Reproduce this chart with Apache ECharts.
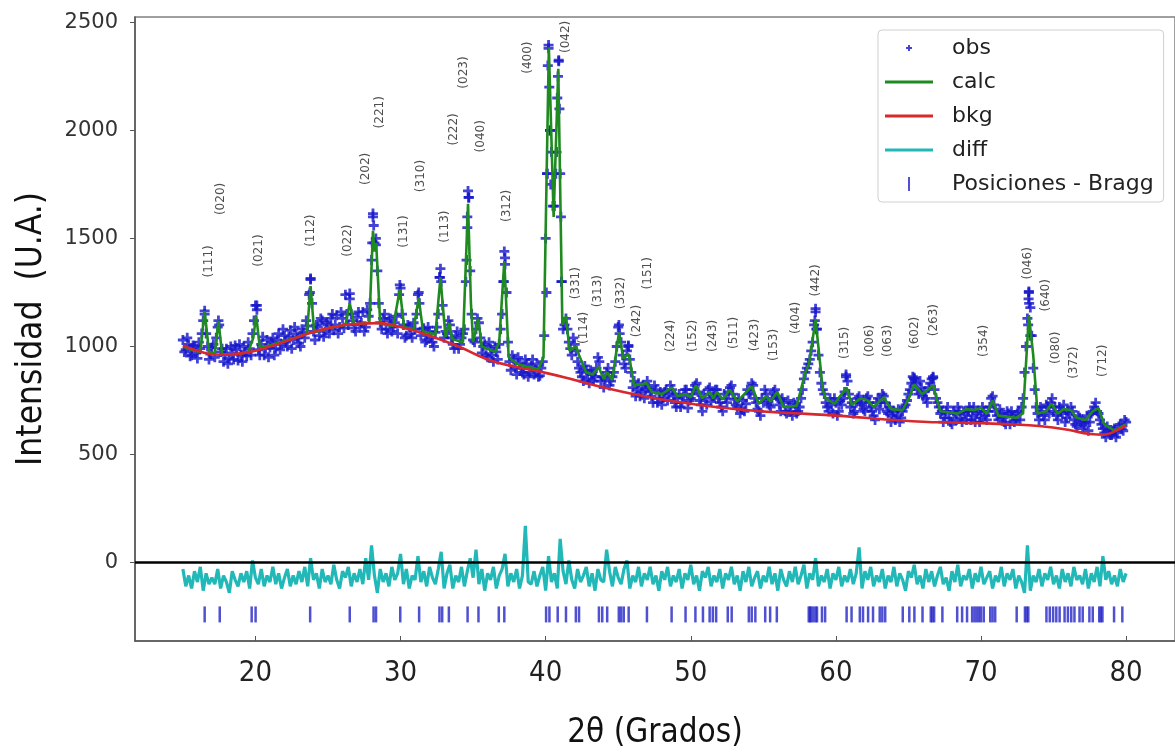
<!DOCTYPE html>
<html>
<head>
<meta charset="utf-8">
<title>Refinamiento Rietveld</title>
<script src="https://cdn.jsdelivr.net/npm/echarts@6/dist/echarts.min.js"></script>
<style>
  html, body { margin: 0; padding: 0; background: #fff; }
  #chart { width: 1175px; height: 755px; }
</style>
</head>
<body>
<div id="chart"></div>
<script>
// observed intensity, read every 0.2 deg from 15.0 to 80.0
var obsStart = 15, obsStep = 0.2;
var obsY = [
  1030, 985, 1010, 960, 1000, 945, 990, 1120, 1060, 940,
  995, 950, 1090, 975, 930, 990, 945, 970, 1005, 935,
  960, 1000, 955, 990, 1060, 1190, 985, 1010, 960, 1030,
  995, 1040, 990, 1060, 1010, 1050, 1000, 1075, 1030, 1060,
  1015, 1080, 1040, 1095, 1310, 1070, 1100, 1050, 1120, 1070,
  1100, 1130, 1075, 1145, 1090, 1130, 1240, 1100, 1150, 1085,
  1135, 1100, 1160, 1090, 1140, 1400, 1480, 1350, 1110, 1130,
  1080, 1120, 1070, 1110, 1060, 1270, 1100, 1050, 1090, 1040,
  1080, 1240, 1050, 1085, 1030, 1070, 1020, 1065, 1150, 1300,
  1040, 1060, 1100, 1010, 1050, 990, 1040, 1080, 1550, 1350,
  1030, 1080, 1110, 970, 1010, 950, 990, 930, 975, 1010,
  1150, 1380, 1020, 890, 940, 870, 925, 880, 940, 860,
  910, 870, 920, 865, 930, 1500, 2380, 1900, 1650, 2150,
  1800, 1080, 1130, 1020, 960, 1010, 930, 880, 840, 890,
  830, 870, 860, 950, 840, 810, 880, 820, 860, 930,
  1090, 1020, 920, 980, 940, 810, 770, 830, 790, 760,
  840, 790, 740, 800, 760, 730, 790, 750, 820, 770,
  720, 780, 740, 800, 715, 760, 800, 830, 750, 700,
  760, 800, 745, 770, 800, 740, 700, 760, 790, 820,
  755, 720, 690, 750, 735, 780, 830, 760, 710, 680,
  740, 780, 730, 760, 800, 760, 700, 740, 690, 720,
  680, 730, 700, 760, 850, 900, 940, 1020, 1160, 960,
  830, 780, 720, 760, 690, 740, 700, 730, 790, 840,
  720, 690, 740, 770, 730, 700, 770, 720, 680, 740,
  710, 780, 740, 690, 650, 700, 680, 650, 700, 730,
  780, 830, 850, 800, 840, 770, 760, 810, 850, 800,
  740, 690, 650, 700, 670, 640, 690, 720, 670, 700,
  660, 720, 680, 650, 700, 670, 700, 660, 720, 770,
  700, 660, 690, 650, 700, 640, 680, 660, 700, 720,
  880, 1130, 1180, 900, 720, 660, 700, 660, 720, 740,
  700, 680, 720, 690, 650, 700, 720, 660, 630, 670,
  620, 650, 610, 690, 720, 700, 660, 620, 580, 610,
  590, 620, 600, 640, 610, 650
];
// observed intensity in between, 15.1 to 79.9
var obsStart2 = 15.1;
var obsY2 = [
  975, 1040, 955, 1005, 970, 1020, 1060, 1150, 1000, 965,
  1010, 1040, 1100, 990, 960, 920, 1000, 940, 985, 1010,
  930, 975, 1020, 960, 1120, 1170, 960, 1045, 990, 950,
  1020, 960, 1030, 985, 1080, 1020, 1045, 990, 1090, 1040,
  1000, 1065, 1120, 1240, 1200, 1030, 1090, 1130, 1045, 1110,
  1060, 1150, 1100, 1060, 1160, 1085, 1150, 1220, 1120, 1070,
  1160, 1110, 1070, 1170, 1200, 1600, 1470, 1200, 1080, 1150,
  1060, 1130, 1090, 1140, 1240, 1150, 1040, 1100, 1060, 1110,
  1150, 1200, 1080, 1020, 1090, 1040, 1000, 1090, 1320, 1190,
  1070, 1120, 1040, 990, 1070, 1010, 1060, 1300, 1690, 1150,
  1020, 1130, 1040, 1000, 960, 1020, 960, 1000, 940, 1080,
  1300, 1250, 930, 960, 900, 950, 900, 870, 920, 880,
  940, 890, 860, 900, 1050, 1800, 2000, 1650, 1800, 2320,
  1300, 1100, 1080, 990, 1040, 980, 900, 860, 910, 850,
  890, 840, 900, 930, 860, 850, 900, 840, 880, 1000,
  1060, 960, 900, 1000, 880, 840, 800, 770, 820, 800,
  810, 770, 820, 740, 790, 760, 800, 780, 800, 740,
  760, 720, 770, 800, 750, 780, 820, 790, 730, 780,
  730, 810, 770, 800, 760, 720, 780, 740, 810, 780,
  730, 760, 710, 700, 800, 790, 820, 740, 700, 760,
  800, 750, 720, 790, 770, 730, 760, 700, 750, 700,
  740, 690, 720, 800, 880, 920, 980, 1100, 1080, 880,
  800, 740, 700, 730, 760, 680, 750, 760, 860, 780,
  740, 700, 760, 740, 710, 760, 740, 700, 660, 760,
  740, 770, 700, 720, 680, 660, 710, 670, 720, 750,
  800, 860, 830, 780, 810, 790, 740, 830, 860, 760,
  720, 700, 670, 720, 650, 700, 660, 700, 650, 690,
  700, 660, 720, 690, 650, 720, 680, 700, 760, 730,
  680, 710, 670, 640, 690, 700, 650, 690, 660, 760,
  1000, 1250, 1050, 800, 690, 720, 680, 730, 690, 760,
  720, 660, 700, 730, 670, 690, 700, 640, 680, 650,
  640, 680, 650, 700, 740, 690, 640, 600, 630, 590,
  610, 580, 630, 620, 660
];
// extra observed points along the peak flanks and tops
var obsPeaks = [
  [16.5, 1165], [17.45, 1120], [20.1, 1190], [23.8, 1315], [23.75, 1250],
  [26.5, 1245], [28.1, 1615], [28.15, 1560], [28.05, 1480], [28.3, 1500],
  [29.95, 1285], [31.25, 1250], [32.75, 1360], [32.7, 1320], [34.65, 1720],
  [34.7, 1690], [34.6, 1600], [34.55, 1400], [37.15, 1440], [37.2, 1410],
  [37.1, 1300], [40.05, 1250], [40.1, 1800], [40.15, 2300], [40.2, 2395],
  [40.25, 2200], [40.3, 2000], [40.35, 1750], [40.75, 1900], [40.85, 2250],
  [40.9, 2325], [40.95, 2100], [41.05, 1600], [41.1, 1300], [45.05, 1100],
  [45.7, 1005], [58.6, 1175], [58.55, 1120], [58.65, 1080], [60.7, 870],
  [65.4, 855], [66.7, 855], [73.3, 1255], [73.28, 1220], [73.32, 1200],
  [73.25, 1100], [73.4, 1050]
];

// calculated profile
var calcPts = [
  [15, 1000], [15.6, 985], [16.2, 975], [16.5, 1165], [16.8, 975], [17.2, 968],
  [17.45, 1120], [17.7, 965], [18.5, 962], [19.5, 975], [19.85, 1040], [20.05, 1145],
  [20.3, 995], [21, 1005], [22, 1025], [23, 1045], [23.55, 1060], [23.8, 1280],
  [24.05, 1065], [25, 1085], [26.2, 1100], [26.5, 1200], [26.8, 1102], [27.85, 1110],
  [28.1, 1535], [28.2, 1440], [28.32, 1480], [28.6, 1105], [29.5, 1095], [29.95, 1265],
  [30.25, 1090], [30.9, 1080], [31.25, 1225], [31.55, 1070], [32.4, 1055], [32.75, 1320],
  [32.9, 1200], [33.1, 1045], [33.35, 1110], [33.55, 1035], [34.3, 1020], [34.65, 1660],
  [34.85, 1200], [35.0, 1020], [35.35, 1130], [35.6, 1000], [36.5, 975], [36.8, 1020],
  [37.15, 1395], [37.45, 950], [38, 920], [38.8, 905], [39.5, 895], [39.85, 950],
  [40.22, 2385], [40.55, 1600], [40.87, 2285], [41.15, 1100], [41.4, 1140], [41.65, 980],
  [42.1, 1000], [42.3, 960], [42.8, 880], [43.25, 870], [43.65, 905], [44.0, 850],
  [44.25, 880], [44.6, 845], [45.05, 1065], [45.35, 945], [45.72, 965], [46.1, 820],
  [46.95, 830], [47.3, 790], [48, 780], [48.7, 810], [49.1, 770], [49.64, 780],
  [50.0, 765], [50.35, 820], [50.8, 760], [51.3, 790], [51.55, 760], [51.8, 790],
  [52.2, 755], [52.7, 800], [53.2, 745], [54.2, 815], [54.7, 735], [55.2, 770],
  [55.5, 745], [55.95, 790], [56.4, 720], [57.3, 725], [57.9, 880], [58.15, 920],
  [58.6, 1125], [59.1, 800], [59.3, 760], [59.9, 735], [60.74, 810], [61.1, 730],
  [61.7, 760], [62.2, 750], [62.6, 720], [63.3, 765], [63.8, 710], [64.6, 705],
  [65.1, 770], [65.4, 825], [65.95, 780], [66.7, 820], [67.2, 700], [68.4, 690],
  [69, 710], [69.5, 705], [70.0, 715], [70.4, 690], [70.8, 750], [71.2, 680],
  [72.4, 670], [72.9, 690], [73.3, 1145], [73.6, 960], [73.9, 690], [74.5, 700],
  [74.85, 735], [75.3, 690], [75.7, 710], [76.2, 705], [76.6, 670], [77.2, 660],
  [77.7, 700], [78.1, 715], [78.5, 640], [79.2, 610], [79.7, 630], [80, 640]
];

// background
var bkgPts = [
  [15, 1005], [16, 980], [17.5, 962], [19, 968], [21, 1000], [23, 1045], [25, 1085],
  [27, 1105], [28.5, 1108], [30, 1090], [32, 1050], [34, 1000], [36, 940], [38, 905],
  [40, 878], [42, 845], [44, 810], [46, 780], [48, 755], [50, 735], [52, 718],
  [54, 705], [56, 695], [58, 688], [60, 680], [62, 670], [64, 660], [66, 652],
  [68, 648], [70, 645], [72, 640], [74, 632], [76, 615], [77.5, 595], [78.5, 592],
  [79.3, 610], [80, 635]
];

// difference obs - calc, same 0.2 deg grid as obsY
var diffY = [
  -30, -110, -60, -120, -40, -90, -20, -130, -50, -100, -70,
  -100, -30, -120, -60, -90, -140, -40, -80, -110, -50,
  -90, -40, -120, 10, -70, -100, -30, -110, -60, -90,
  -20, -100, -50, -120, -70, -30, -110, -60, -100, -40,
  -90, -20, -110, 20, -80, -50, -120, -30, -90, -60,
  -100, -10, -80, -120, -40, -70, -20, -110, -50, -90,
  -30, -100, 20, -80, 80, -60, -140, -30, -90, -50,
  -110, -20, -80, -50, 40, -100, -30, -120, -60, -80,
  30, -90, -40, -110, -20, -70, -100, -30, 50, -120,
  -50, -10, -120, -60, -90, -20, -110, -40, 20, -70,
  60, -100, -30, -130, -50, -80, -20, -120, -60, -30,
  40, -110, -50, -90, -30, -120, -60, 170, -90, -100,
  -40, -110, -60, -20, -130, 30, -90, -50, -120, 110,
  -40, -100, 10, -80, -120, -30, -90, -60, -20, -110,
  -50, -130, -30, -80, -90, 60, -40, -110, -20, -70,
  -100, -30, 10, -120, -60, -90, -20, -110, -50, -80,
  -20, -100, -60, -130, -40, -80, -20, -110, -60, -90,
  -30, -120, -50, -80, -10, -100, -60, -130, -40, -70,
  -20, -110, -60, -90, -30, -120, -50, -80, -20, -100,
  -60, -130, -40, -90, -20, -110, -70, -40, -120, -60,
  -90, -20, -100, -50, -130, -30, -80, -110, -40, -90,
  -20, -100, -60, -10, -120, -50, -80, 20, -110, -60,
  -90, -30, -120, -50, -80, -20, -110, -60, -90, -30,
  -100, -50, 70, -120, -40, -80, -20, -110, -60, -90,
  -30, -120, -60, -90, -20, -110, -50, -80, -130, -40,
  -70, -10, -100, -60, -120, -30, -90, -40, -110, -60,
  -20, -100, -70, -130, -40, -90, -10, -110, -60, -80,
  -30, -120, -50, -90, -20, -100, -70, -40, -120, -60,
  -90, -20, -110, -50, -80, -30, -120, -60, -90, -140,
  80, -130, -60, -90, -30, -110, -50, -80, -20, -100,
  -60, -120, -30, -90, -50, -110, -20, -80, -60, -100,
  -30, -120, -50, -90, -20, -110, 30, -80, -40, -100,
  -60, -110, -30, -90, -50
];

// Bragg reflection positions (2theta)
var braggPos = [
  16.5, 17.54, 19.74, 20.01, 23.77, 26.5, 28.14, 28.31, 29.98, 31.28, 32.68, 32.87,
  33.33, 34.62, 35.37, 36.77, 37.15, 40.03, 40.26, 40.83, 41.4, 42.08, 42.3, 43.67,
  43.9, 44.24, 45.04, 45.2, 45.38, 45.72, 46.98, 48.68, 49.64, 50.32, 50.84, 51.3,
  51.52, 51.75, 52.55, 52.82, 54.0, 54.2, 54.45, 55.13, 55.47, 55.93, 58.13, 58.22,
  58.3, 58.45, 58.6, 58.7, 59.04, 59.26, 60.74, 61.08, 61.65, 61.87, 62.22, 62.56,
  63.02, 63.2, 63.4, 64.61, 65.06, 65.41, 65.97, 66.54, 66.65, 66.77, 67.34, 68.36,
  68.7, 69.04, 69.39, 69.55, 69.7, 69.85, 70.0, 70.19, 70.64, 70.8, 70.98, 72.46,
  73.03, 73.15, 73.26, 74.51, 74.74, 74.97, 75.19, 75.42, 75.76, 75.99, 76.22, 76.44,
  76.79, 77.01, 77.47, 77.7, 78.15, 78.26, 78.37, 79.17, 79.74
];
var braggLevel = -240;

// Miller index labels
var hklNames = ['(111)','(020)','(021)','(112)','(022)','(202)','(221)','(131)','(310)','(113)',
  '(222)','(023)','(040)','(312)','(400)','(042)','(331)','(114)','(313)','(332)',
  '(242)','(151)','(224)','(152)','(243)','(511)','(423)','(153)','(404)','(442)',
  '(315)','(006)','(063)','(602)','(263)','(354)','(046)','(640)','(080)','(372)','(712)'];
var hklX = [16.76, 17.62, 20.24, 23.84, 26.38, 27.61, 28.55, 30.2, 31.37, 33.07,
  33.67, 34.37, 35.53, 37.3, 38.8, 41.4, 42.08, 42.63, 43.63, 45.15,
  46.29, 47.07, 48.61, 50.14, 51.5, 52.94, 54.42, 55.73, 57.24, 58.6,
  60.65, 62.37, 63.58, 65.42, 66.77, 70.19, 73.26, 74.5, 75.19, 76.42, 78.37];
var hklY = [1394, 1683, 1444, 1536, 1490, 1822, 2084, 1532, 1789, 1555,
  2005, 2268, 1973, 1651, 2337, 2433, 1293, 1086, 1256, 1247,
  1118, 1339, 1049, 1049, 1049, 1063, 1053, 1007, 1132, 1306,
  1017, 1026, 1026, 1063, 1122, 1026, 1385, 1237, 994, 925, 934];

var xTicks = [20, 30, 40, 50, 60, 70, 80];
var yTicks = [0, 500, 1000, 1500, 2000, 2500];

function onGrid(start, i) { return Math.round((start + i * obsStep) * 100) / 100; }

var obsData = obsY.map(function (v, i) { return [onGrid(obsStart, i), v]; })
  .concat(obsY2.map(function (v, i) { return [onGrid(obsStart2, i), v]; }))
  .concat(obsPeaks);
var diffData = diffY.map(function (v, i) { return [onGrid(obsStart, i), v]; });
var braggData = braggPos.map(function (x) { return [x, braggLevel]; });
var hklData = hklNames.map(function (n, i) { return { name: n, value: [hklX[i], hklY[i]] }; });

var plusPath = 'path://M3.6,0 L6.4,0 L6.4,3.6 L10,3.6 L10,6.4 L6.4,6.4 L6.4,10 L3.6,10 L3.6,6.4 L0,6.4 L0,3.6 L3.6,3.6 Z';
var plusIcon = 'path://M0,0 L48,14 L48,14 Z M23,4 L25,4 L25,6 L27,6 L27,8 L25,8 L25,10 L23,10 L23,8 L21,8 L21,6 L23,6 Z';
var barIcon = 'path://M0,0 L48,14 L48,14 Z M23,0 L25,0 L25,14 L23,14 Z';
var lineIcon = 'path://M0,0 L48,14 L48,14 Z M0,5.5 L48,5.5 L48,8.5 L0,8.5 Z';

var narrow = "'Liberation Sans Narrow', 'DejaVu Sans Condensed', sans-serif";

var chart = echarts.init(document.getElementById('chart'));
var option = {
  animation: false,
  backgroundColor: '#fff',
  grid: {
    left: 135, top: 17, width: 1050, height: 628,
    show: true, borderColor: '#808080', borderWidth: 1.5
  },
  legend: {
    left: 878, top: 30, orient: 'vertical',
    padding: [6, 10, 6, 7],
    itemWidth: 48, itemHeight: 14, itemGap: 10,
    borderColor: '#d0d0d0', borderWidth: 1, borderRadius: 4,
    backgroundColor: '#fff',
    textStyle: { fontFamily: 'DejaVu Sans', fontSize: 22, color: '#222', lineHeight: 24, padding: [0, 0, 0, 14] },
    data: [
      { name: 'obs', icon: plusIcon },
      { name: 'calc', icon: lineIcon },
      { name: 'bkg', icon: lineIcon },
      { name: 'diff', icon: lineIcon },
      { name: 'Posiciones - Bragg', icon: barIcon }
    ]
  },
  xAxis: {
    type: 'value', min: 11.7, max: 83.37,
    name: '2θ (Grados)', nameLocation: 'middle', nameGap: 76,
    nameTextStyle: { fontFamily: narrow, fontSize: 33, color: '#111' },
    splitLine: { show: false },
    axisLine: { onZero: false, lineStyle: { color: '#555', width: 1.5 } },
    axisTick: { inside: true, length: 5, customValues: xTicks, lineStyle: { color: '#555' } },
    axisLabel: { customValues: xTicks, margin: 18, fontFamily: narrow, fontSize: 29, color: '#222' }
  },
  yAxis: {
    type: 'value', min: -363, max: 2525,
    name: 'Intensidad  (U.A.)', nameLocation: 'middle', nameGap: 86,
    nameTextStyle: { fontFamily: narrow, fontSize: 35, color: '#111' },
    splitLine: { show: false },
    axisLine: { show: true, lineStyle: { color: '#555', width: 1.5 } },
    axisTick: { show: true, length: 5, customValues: yTicks, lineStyle: { color: '#555' } },
    axisLabel: {
      customValues: yTicks, margin: 17, fontFamily: 'DejaVu Sans', fontSize: 21, color: '#333',
      formatter: function (v) { return String(v); }
    }
  },
  series: [
    {
      name: 'obs', type: 'scatter', data: obsData, z: 2,
      symbol: plusPath, symbolSize: 10,
      itemStyle: { color: '#1414cc' }
    },
    {
      name: 'calc', type: 'line', data: calcPts, z: 3,
      symbol: 'none', lineStyle: { color: '#1f8a1f', width: 2.6 }, itemStyle: { color: '#1f8a1f' }
    },
    {
      name: 'bkg', type: 'line', data: bkgPts, z: 4, smooth: true,
      symbol: 'none', lineStyle: { color: '#d8282c', width: 2.6 }, itemStyle: { color: '#d8282c' }
    },
    {
      name: 'diff', type: 'line', data: diffData, z: 3,
      symbol: 'none', lineStyle: { color: '#22b8b8', width: 3.2 }, itemStyle: { color: '#22b8b8' },
      markLine: {
        silent: true, symbol: ['none', 'none'], label: { show: false },
        lineStyle: { color: '#000', width: 2.5, type: 'solid' },
        data: [{ yAxis: 0 }]
      }
    },
    {
      name: 'Posiciones - Bragg', type: 'scatter', data: braggData, z: 3,
      symbol: 'rect', symbolSize: [2.5, 16],
      itemStyle: { color: '#2424c8' }
    },
    {
      name: 'hkl', type: 'scatter', data: hklData, z: 6,
      symbolSize: 0, silent: true,
      label: {
        show: true, position: 'inside', rotate: 90, formatter: '{b}',
        fontFamily: 'DejaVu Sans', fontSize: 12, color: '#222'
      }
    }
  ]
};
chart.setOption(option);
</script>
</body>
</html>
